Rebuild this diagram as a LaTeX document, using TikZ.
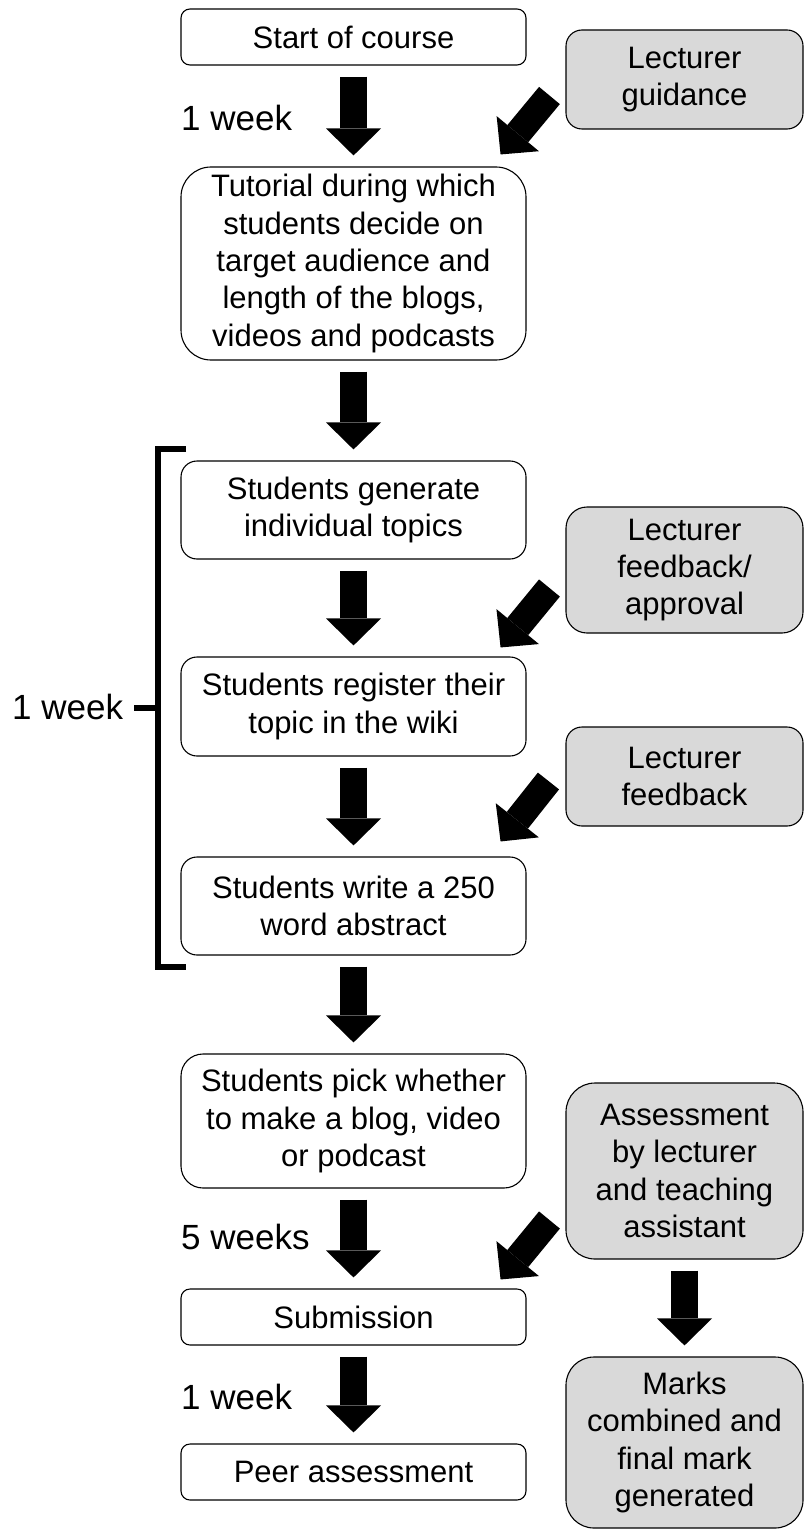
\documentclass[tikz,border=0pt]{standalone}
\usepackage{fontspec}
\setmainfont{Liberation Sans}
\usetikzlibrary{arrows.meta}
\definecolor{boxgrey}{HTML}{D9D9D9}

\begin{document}
\begin{tikzpicture}[x=1pt,y=-1pt,font=\fontsize{31}{37.3}\selectfont,
    white node/.style={draw=black,line width=1.1pt,fill=white,align=center,inner sep=0pt,minimum width=345pt,rounded corners=#1},
    grey node/.style={white node=#1,fill=boxgrey,minimum width=237pt},
    block arrow/.style={line width=27pt,-{Triangle[width=55pt,length=27pt,line width=0pt]},shorten <=11pt,shorten >=11pt},
    time label/.style={anchor=west,inner sep=0pt,font=\fontsize{35}{40}\selectfont}]

            \useasboundingbox (0,0) rectangle (806,1530);

            \node[white node=9pt, minimum height=56pt] (1) at (353.5,37) {Start of course};
            \node[white node=30pt, minimum height=193pt] (2) at (353.5,263.5) {Tutorial during which\\students decide on\\target audience and\\length of the blogs,\\videos and podcasts};
            \node[white node=16pt, minimum height=98pt] (3) at (353.5,510) {Students generate\\individual topics};
            \node[white node=16pt, minimum height=99pt] (4) at (353.5,706.5) {Students register their\\topic in the wiki};
            \node[white node=16pt, minimum height=98pt] (5) at (353.5,906) {Students write a 250\\word abstract};
            \node[white node=22pt, minimum height=134pt] (6) at (353.5,1121) {Students pick whether\\to make a blog, video\\or podcast};
            \node[white node=9pt, minimum height=56pt] (7) at (353.5,1317) {Submission};
            \node[white node=9pt, minimum height=56pt] (8) at (353.5,1472) {Peer assessment};

            \node[grey node=16pt, minimum height=99pt] (g1) at (684.5,79.5) {Lecturer\\guidance};
            \node[grey node=21pt, minimum height=126pt] (g2) at (684.5,570) {Lecturer\\feedback/\\approval};
            \node[grey node=16pt, minimum height=99pt] (g3) at (684.5,776.5) {Lecturer\\feedback};
            \node[grey node=29pt, minimum height=176pt] (g4) at (684.5,1171) {Assessment\\by lecturer\\and teaching\\assistant};
            \node[grey node=28pt, minimum height=171pt] (g5) at (684.5,1442.5) {Marks\\combined and\\final mark\\generated};

            \node[time label] (w1) at (181,118) {1 week};
            \node[time label] (w2) at (12,707) {1 week};
            \node[time label] (w3) at (181,1237) {5 weeks};
            \node[time label] (w4) at (181,1397) {1 week};

            \draw[block arrow] (1) to (2);
            \draw[block arrow] (2) to (3);
            \draw[block arrow] (3) to (4);
            \draw[block arrow] (4) to (5);
            \draw[block arrow] (5) to (6);
            \draw[block arrow] (6) to (7);
            \draw[block arrow] (7) to (8);
            \draw[block arrow] (g4) to (g5);

            \draw[block arrow, shorten <=0pt, shorten >=0pt] ([shift={(-16,16)}]g1.west) to ([shift={(-26,-12)}]2.north east);
            \draw[block arrow, shorten <=0pt, shorten >=0pt] ([shift={(-16,18)}]g2.west) to ([shift={(-26,-9)}]4.north east);
            \draw[block arrow, shorten <=0pt, shorten >=0pt] ([shift={(-17,4.5)}]g3.west) to ([shift={(-26,-15)}]5.north east);
            \draw[block arrow, shorten <=0pt, shorten >=0pt] ([shift={(-16,49)}]g4.west) to ([shift={(-26,-9)}]7.north east);

            % bracket round the three steps of the second week
            \draw[line width=5.5pt] (186,449) -- (158,449) -- (158,967) -- (186,967);
            \draw[line width=5.5pt] (134,708) -- (158,708);

        \end{tikzpicture}
\end{document}
